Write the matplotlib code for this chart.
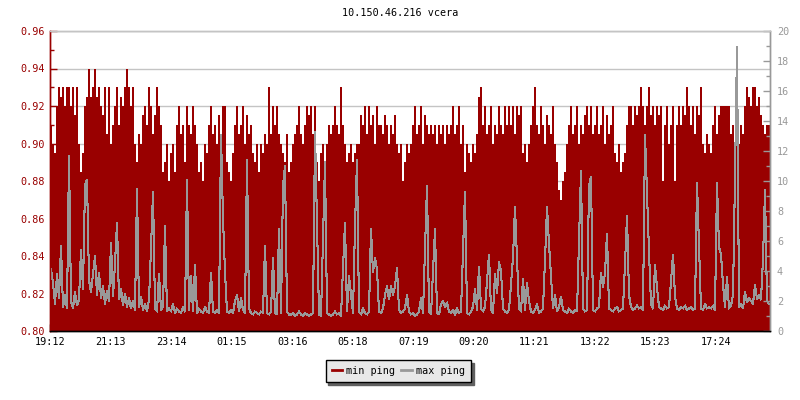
import numpy as np
import matplotlib
matplotlib.use("Agg")
import matplotlib.pyplot as plt
from matplotlib.lines import Line2D
from matplotlib.ticker import MultipleLocator, FormatStrFormatter

title = "10.150.46.216 vcera"
series_names = ["min ping", "max ping"]
time_labels = ["19:12", "21:13", "23:14", "01:15", "03:16", "05:18",
               "07:19", "09:20", "11:21", "13:22", "15:23", "17:24"]
span_minutes = 1440      # 24 h shown
label_step_minutes = 121.1
bin_minutes = 4

# min ping (ms, left axis) – one value per 4-minute bin
min_ping = [
    0.91, 0.90, 0.895, 0.92, 0.93, 0.925, 0.93, 0.92, 0.93, 0.93,
    0.92, 0.93, 0.915, 0.93, 0.90, 0.885, 0.895, 0.92, 0.925, 0.94,
    0.925, 0.93, 0.94, 0.925, 0.93, 0.92, 0.915, 0.93, 0.905, 0.93,
    0.90, 0.91, 0.92, 0.93, 0.91, 0.925, 0.92, 0.93, 0.94, 0.93,
    0.92, 0.93, 0.90, 0.89, 0.905, 0.90, 0.915, 0.92, 0.91, 0.93,
    0.92, 0.905, 0.915, 0.93, 0.92, 0.91, 0.885, 0.89, 0.90, 0.88,
    0.895, 0.90, 0.885, 0.91, 0.92, 0.905, 0.91, 0.89, 0.92, 0.91,
    0.905, 0.92, 0.91, 0.90, 0.885, 0.89, 0.88, 0.90, 0.895, 0.91,
    0.92, 0.905, 0.91, 0.90, 0.915, 0.90, 0.92, 0.92, 0.89, 0.885,
    0.88, 0.895, 0.91, 0.92, 0.905, 0.91, 0.92, 0.90, 0.915, 0.905,
    0.91, 0.895, 0.89, 0.90, 0.885, 0.90, 0.895, 0.905, 0.90, 0.93,
    0.905, 0.92, 0.91, 0.92, 0.905, 0.90, 0.895, 0.89, 0.905, 0.885,
    0.89, 0.90, 0.905, 0.91, 0.92, 0.905, 0.90, 0.91, 0.92, 0.915,
    0.92, 0.905, 0.92, 0.89, 0.88, 0.895, 0.90, 0.885, 0.90, 0.91,
    0.905, 0.91, 0.92, 0.91, 0.905, 0.93, 0.91, 0.90, 0.89, 0.895,
    0.90, 0.89, 0.895, 0.90, 0.90, 0.915, 0.91, 0.92, 0.905, 0.92,
    0.91, 0.915, 0.90, 0.92, 0.91, 0.91, 0.905, 0.915, 0.91, 0.90,
    0.91, 0.905, 0.915, 0.90, 0.895, 0.90, 0.88, 0.89, 0.90, 0.895,
    0.90, 0.91, 0.92, 0.905, 0.91, 0.92, 0.90, 0.915, 0.91, 0.905,
    0.91, 0.905, 0.91, 0.90, 0.91, 0.905, 0.91, 0.90, 0.91, 0.905,
    0.91, 0.92, 0.905, 0.91, 0.92, 0.90, 0.91, 0.885, 0.90, 0.895,
    0.89, 0.90, 0.895, 0.905, 0.925, 0.93, 0.91, 0.92, 0.905, 0.91,
    0.92, 0.90, 0.91, 0.905, 0.92, 0.91, 0.905, 0.92, 0.91, 0.92,
    0.91, 0.92, 0.905, 0.92, 0.915, 0.92, 0.895, 0.90, 0.89, 0.90,
    0.91, 0.92, 0.93, 0.91, 0.905, 0.92, 0.91, 0.90, 0.915, 0.91,
    0.905, 0.92, 0.90, 0.89, 0.875, 0.87, 0.88, 0.885, 0.90, 0.91,
    0.92, 0.905, 0.91, 0.92, 0.90, 0.91, 0.905, 0.915, 0.92, 0.91,
    0.92, 0.905, 0.91, 0.92, 0.905, 0.91, 0.92, 0.90, 0.915, 0.905,
    0.91, 0.92, 0.895, 0.89, 0.90, 0.885, 0.89, 0.895, 0.91, 0.92,
    0.92, 0.91, 0.92, 0.915, 0.92, 0.93, 0.92, 0.91, 0.92, 0.93,
    0.915, 0.92, 0.91, 0.92, 0.915, 0.92, 0.88, 0.91, 0.92, 0.90,
    0.91, 0.92, 0.88, 0.91, 0.92, 0.91, 0.92, 0.915, 0.93, 0.92,
    0.91, 0.92, 0.905, 0.92, 0.915, 0.93, 0.90, 0.895, 0.905, 0.90,
    0.895, 0.91, 0.92, 0.905, 0.915, 0.92, 0.92, 0.92, 0.92, 0.92,
    0.905, 0.91, 0.90, 0.91, 0.90, 0.91, 0.905, 0.92, 0.93, 0.925,
    0.92, 0.93, 0.93, 0.92, 0.925, 0.915, 0.91, 0.905, 0.91, 0.91,
]

# max ping (ms, right axis) – one value per 4-minute bin
max_ping = [
    4.1, 3.2, 1.8, 3.8, 2.2, 5.7, 1.6, 2.4, 1.5, 11.7,
    2.0, 1.5, 2.6, 1.7, 2.1, 5.4, 2.8, 9.7, 10.1, 3.4,
    2.6, 3.8, 5.0, 2.4, 3.9, 2.2, 3.0, 1.8, 2.7, 2.0,
    5.9, 2.3, 4.5, 7.2, 2.1, 2.8, 1.7, 2.5, 1.6, 2.2,
    1.5, 2.0, 1.4, 9.5, 1.6, 2.3, 1.4, 1.8, 1.3, 2.1,
    5.5, 9.3, 1.5, 1.3, 3.8, 1.4, 1.6, 7.0, 1.3, 1.5,
    1.3, 1.8, 1.2, 1.5, 1.3, 1.2, 1.6, 1.3, 10.1, 1.4,
    3.7, 1.3, 4.4, 1.2, 1.5, 1.3, 1.2, 1.6, 1.3, 1.2,
    3.9, 1.3, 1.2, 1.4, 1.2, 13.1, 7.5, 3.9, 1.3, 1.2,
    1.4, 1.2, 2.0, 2.4, 1.3, 2.2, 1.4, 1.2, 11.4, 1.5,
    1.2, 1.1, 1.3, 1.2, 1.1, 1.3, 1.2, 5.7, 1.2, 1.1,
    1.3, 4.9, 1.2, 1.1, 6.8, 1.2, 9.7, 11.0, 1.3, 1.1,
    1.1, 1.2, 1.0, 1.1, 1.3, 1.1, 1.0, 1.2, 1.1, 1.0,
    1.1, 1.2, 13.3, 7.2, 1.1, 1.0, 6.2, 11.3, 1.2, 1.1,
    1.0, 1.1, 1.3, 1.1, 1.2, 1.0, 4.2, 7.2, 1.3, 3.7,
    2.4, 1.2, 7.0, 11.4, 1.3, 1.1, 1.5, 1.2, 1.1, 1.3,
    6.8, 3.9, 4.9, 4.1, 1.3, 1.2, 1.5, 2.4, 3.0, 2.1,
    3.0, 2.4, 3.0, 4.2, 1.4, 1.2, 1.3, 1.5, 2.4, 1.3,
    1.1, 1.2, 1.0, 1.1, 1.3, 2.2, 1.2, 5.5, 9.7, 1.3,
    1.1, 3.9, 6.8, 1.2, 1.1, 1.8, 2.0, 1.6, 1.9, 1.3,
    1.2, 1.4, 1.1, 1.5, 1.2, 1.3, 5.2, 9.3, 1.2, 1.1,
    1.3, 1.6, 2.8, 1.4, 4.3, 1.5, 1.3, 1.6, 3.3, 5.1,
    1.4, 1.2, 3.8, 2.5, 4.6, 4.0, 1.5, 1.3, 1.2, 1.4,
    3.1, 4.9, 8.3, 4.8, 1.5, 1.3, 3.5, 1.4, 3.2, 2.0,
    1.3, 1.2, 1.4, 1.8, 1.2, 1.3, 1.5, 4.7, 8.3, 5.8,
    3.7, 1.5, 2.4, 1.3, 1.6, 2.3, 1.4, 1.3, 1.2, 1.5,
    1.3, 1.2, 1.4, 1.3, 6.0, 10.7, 1.5, 1.3, 1.4, 9.7,
    10.3, 1.4, 1.3, 1.5, 1.6, 3.9, 2.9, 3.9, 6.5, 1.5,
    1.4, 1.3, 1.5, 1.6, 1.3, 1.4, 1.5, 4.5, 7.7, 2.4,
    1.6, 1.4, 1.5, 1.7, 1.5, 1.6, 1.4, 13.1, 9.2, 5.3,
    1.8, 1.5, 4.4, 2.9, 1.6, 1.5, 1.4, 1.7, 1.5, 1.6,
    3.3, 5.1, 2.3, 1.5, 1.4, 1.6, 1.5, 1.7, 1.4, 1.5,
    1.6, 1.4, 1.5, 9.9, 5.6, 1.5, 1.4, 1.8, 1.5, 1.6,
    1.5, 1.7, 1.4, 9.9, 5.6, 5.1, 3.1, 1.6, 3.6, 1.5,
    1.7, 2.4, 10.3, 18.95, 1.6, 1.8, 1.5, 2.6, 1.9, 2.2,
    2.0, 1.8, 3.1, 2.1, 2.4, 2.1, 4.8, 9.4, 2.0, 1.8,
]

RED = "#990000"
GRAY = "#999999"
GRID = "#c4c4c4"
FONT = "DejaVu Sans Mono"
FS = 7.3

plt.rcParams["font.family"] = FONT
plt.rcParams["font.size"] = FS

fig = plt.figure(figsize=(8, 4), dpi=100)
ax = fig.add_axes([50 / 800, 1 - 331 / 400, 720 / 800, 300 / 400])
ax2 = ax.twinx()

edges = np.arange(len(min_ping) + 1) * bin_minutes
centers = (edges[:-1] + edges[1:]) / 2

ax.set_axisbelow(True)
ax.yaxis.grid(True, which="major", color=GRID, lw=1)
ax.stairs(min_ping, edges, baseline=0.80, fill=True, color=RED, lw=0, zorder=2)
ax2.plot(centers, max_ping, color=GRAY, lw=0.75, antialiased=False)

ax.set_xlim(0, span_minutes)
ax.set_ylim(0.80, 0.96)
ax2.set_ylim(0, 20)

ax.yaxis.set_major_locator(MultipleLocator(0.02))
ax.yaxis.set_minor_locator(MultipleLocator(0.01))
ax.yaxis.set_major_formatter(FormatStrFormatter("%.2f"))
ax2.yaxis.set_major_locator(MultipleLocator(2))
ax2.yaxis.set_minor_locator(MultipleLocator(1))

ax.set_xticks([i * label_step_minutes for i in range(len(time_labels))])
ax.set_xticklabels(time_labels)

ax.tick_params(axis="x", direction="in", length=5, width=1, color="black",
               labelcolor="black", pad=4)
ax.tick_params(axis="y", which="major", direction="in", length=5, width=1,
               color=RED, labelcolor=RED, pad=4)
ax.tick_params(axis="y", which="minor", direction="in", length=3, width=1, color=RED)
ax2.tick_params(axis="y", which="major", direction="in", length=5, width=1,
                color=GRAY, labelcolor=GRAY, pad=5)
ax2.tick_params(axis="y", which="minor", direction="in", length=3, width=1, color=GRAY)

for a in (ax, ax2):
    a.spines["top"].set_color(GRID)
    a.spines["left"].set_color(RED)
    a.spines["right"].set_color(GRAY)
    a.spines["bottom"].set_color("black")
    for s in a.spines.values():
        s.set_linewidth(1)

fig.text(0.5, 1 - 13 / 400, title, ha="center", va="center", color="black", fontsize=FS)

handles = [Line2D([], [], color=RED, lw=2), Line2D([], [], color=GRAY, lw=2)]
fig.legend(handles, series_names, loc="center", bbox_to_anchor=(0.498, 0.0725),
           ncol=2, frameon=True, fancybox=False, edgecolor="black",
           facecolor="#e8e8e8", framealpha=1,
           shadow={"color": "#606060", "alpha": 1},
           handlelength=1.0, handletextpad=0.45, columnspacing=0.6,
           borderpad=0.6, fontsize=FS)

fig.savefig("out.png", dpi=100)
